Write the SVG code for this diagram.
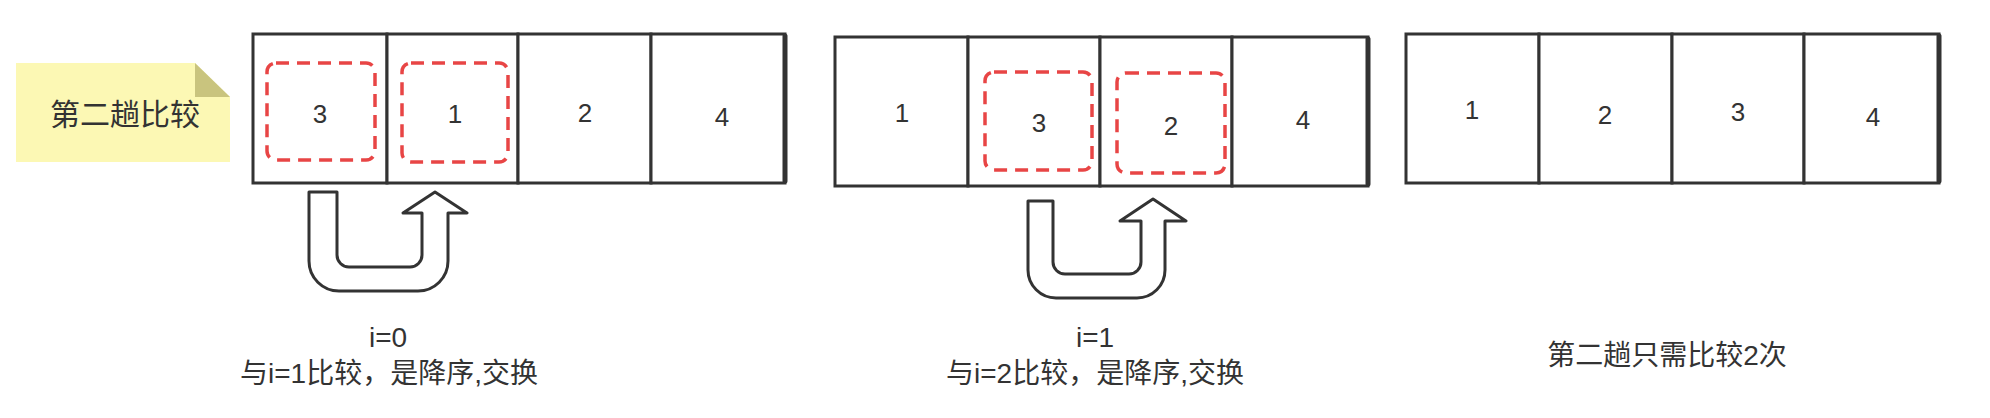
<svg xmlns="http://www.w3.org/2000/svg" width="1990" height="418" viewBox="0 0 1990 418">
<style>
.cell{fill:#fff;stroke:#333;stroke-width:3}
.edge{stroke:#333;stroke-width:5;stroke-linecap:round}
.num{font-family:"Liberation Sans","Noto Sans CJK SC",sans-serif;font-size:26px;fill:#333;text-anchor:middle}
.lbl{font-family:"Liberation Sans","Noto Sans CJK SC",sans-serif;font-size:28px;fill:#333;text-anchor:middle}
.sel{fill:none;stroke:#e84545;stroke-width:3.5;stroke-dasharray:13 8}
.uarrow{fill:#fff;stroke:#333;stroke-width:3;stroke-linejoin:round}
</style>
<rect width="1990" height="418" fill="#fff"/>
<g id="note">
<polygon points="16,63 195,63 230,97 230,162 16,162" fill="#fcf8b4"/>
<polygon points="195,63 195,97 230,97" fill="#c9c47e"/>
<text x="125" y="125" font-family="'Noto Sans CJK SC',sans-serif" font-size="30" fill="#333" text-anchor="middle">第二趟比较</text>
</g>
<g id="array1">
<rect class="cell" x="253" y="34" width="134" height="149"/>
<rect class="cell" x="387" y="34" width="131" height="149"/>
<rect class="cell" x="518" y="34" width="133" height="149"/>
<rect class="cell" x="651" y="34" width="134" height="149"/>
<line class="edge" x1="785" y1="36" x2="785" y2="181"/>
<text class="num" x="320" y="123">3</text>
<text class="num" x="455" y="123">1</text>
<text class="num" x="585" y="122">2</text>
<text class="num" x="722" y="126">4</text>
</g>
<g id="sel1">
<rect class="sel" x="267" y="63" width="108" height="97" rx="9"/>
<rect class="sel" x="402" y="63" width="106" height="99" rx="9"/>
</g>
<g id="array2">
<rect class="cell" x="835" y="37" width="133" height="149"/>
<rect class="cell" x="968" y="37" width="132" height="149"/>
<rect class="cell" x="1100" y="37" width="132" height="149"/>
<rect class="cell" x="1232" y="37" width="136" height="149"/>
<line class="edge" x1="1368" y1="39" x2="1368" y2="184"/>
<text class="num" x="902" y="122">1</text>
<text class="num" x="1039" y="132">3</text>
<text class="num" x="1171" y="135">2</text>
<text class="num" x="1303" y="129">4</text>
</g>
<g id="sel2">
<rect class="sel" x="985" y="72" width="107" height="98" rx="9"/>
<rect class="sel" x="1117" y="73" width="108" height="100" rx="9"/>
</g>
<g id="array3">
<rect class="cell" x="1406" y="34" width="133" height="149"/>
<rect class="cell" x="1539" y="34" width="133" height="149"/>
<rect class="cell" x="1672" y="34" width="132" height="149"/>
<rect class="cell" x="1804" y="34" width="135" height="149"/>
<line class="edge" x1="1939" y1="36" x2="1939" y2="181"/>
<text class="num" x="1472" y="119">1</text>
<text class="num" x="1605" y="124">2</text>
<text class="num" x="1738" y="121">3</text>
<text class="num" x="1873" y="126">4</text>
</g>
<g id="connectors">
<path class="uarrow" d="M309,192 H337 V255 A12,12 0 0 0 349,267 H410 A12,12 0 0 0 422,255 V213 H403 L435,192 L467,213 H448 V261 A30,30 0 0 1 418,291 H339 A30,30 0 0 1 309,261 Z"/>
<path class="uarrow" d="M1028,201 H1053 V262 A12,12 0 0 0 1065,274 H1129 A12,12 0 0 0 1141,262 V221 H1120 L1153,199 L1186,221 H1165 V270 A28,28 0 0 1 1137,298 H1056 A28,28 0 0 1 1028,270 Z"/>
</g>
<g id="label1">
<text class="lbl" x="388" y="347">i=0</text>
<text class="lbl" x="389" y="383">与i=1比较，是降序,交换</text>
</g>
<g id="label2">
<text class="lbl" x="1095" y="347">i=1</text>
<text class="lbl" x="1095" y="383">与i=2比较，是降序,交换</text>
</g>
<g id="label3">
<text class="lbl" x="1667" y="365" font-size="31">第二趟只需比较2次</text>
</g>
</svg>
